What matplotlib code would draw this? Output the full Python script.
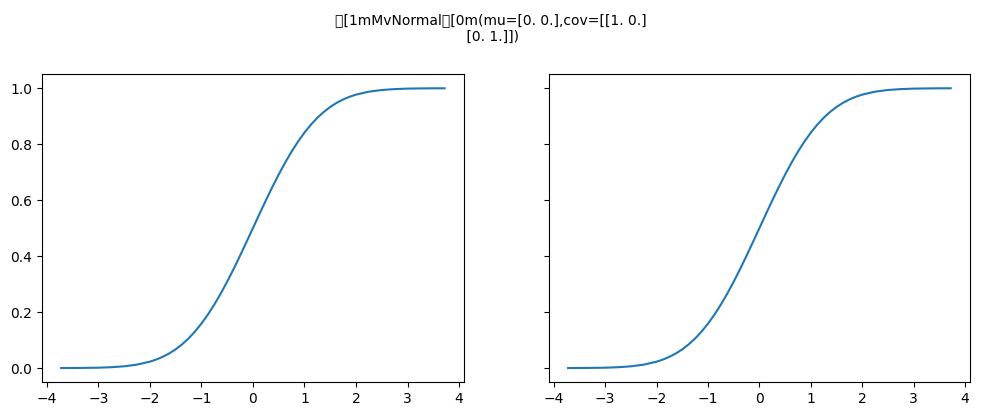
import matplotlib
matplotlib.use("Agg")
import matplotlib.pyplot as plt

# values (standard normal CDF shape)
x_vals = [-3.72, -3.5, -3.25, -3.0, -2.75, -2.5, -2.25, -2.0, -1.875, -1.75, -1.625,
          -1.5, -1.375, -1.25, -1.125, -1.0, -0.875, -0.75, -0.625, -0.5, -0.375,
          -0.25, -0.125, 0.0, 0.125, 0.25, 0.375, 0.5, 0.625, 0.75, 0.875, 1.0,
          1.125, 1.25, 1.375, 1.5, 1.625, 1.75, 1.875, 2.0, 2.25, 2.5, 2.75, 3.0,
          3.25, 3.5, 3.72]
cdf_vals = [0.0001, 0.0002, 0.0006, 0.0013, 0.0030, 0.0062, 0.0122, 0.0228, 0.0304,
            0.0401, 0.0521, 0.0668, 0.0846, 0.1056, 0.1303, 0.1587, 0.1908, 0.2266,
            0.2660, 0.3085, 0.3538, 0.4013, 0.4503, 0.5, 0.5497, 0.5987, 0.6462,
            0.6915, 0.7340, 0.7734, 0.8092, 0.8413, 0.8697, 0.8944, 0.9154, 0.9332,
            0.9479, 0.9599, 0.9696, 0.9772, 0.9878, 0.9938, 0.9970, 0.9987, 0.9994,
            0.9998, 0.9999]
title = "\x1b[1mMvNormal\x1b[0m(mu=[0. 0.],cov=[[1. 0.]\n [0. 1.]])"

fig = plt.figure(figsize=(9.81, 4.16), dpi=100)
ax1 = fig.add_axes([0.0428, 0.0817, 0.430, 0.7397])
ax2 = fig.add_axes([0.5596, 0.0817, 0.429, 0.7397], sharey=ax1)

for ax in (ax1, ax2):
    ax.plot(x_vals, cdf_vals, color="#1f77b4")
    ax.set_xticks([-4, -3, -2, -1, 0, 1, 2, 3, 4])
ax2.tick_params(labelleft=False)

fig.suptitle(title, fontsize=10, y=0.968)
fig.savefig("out.png", dpi=100)
